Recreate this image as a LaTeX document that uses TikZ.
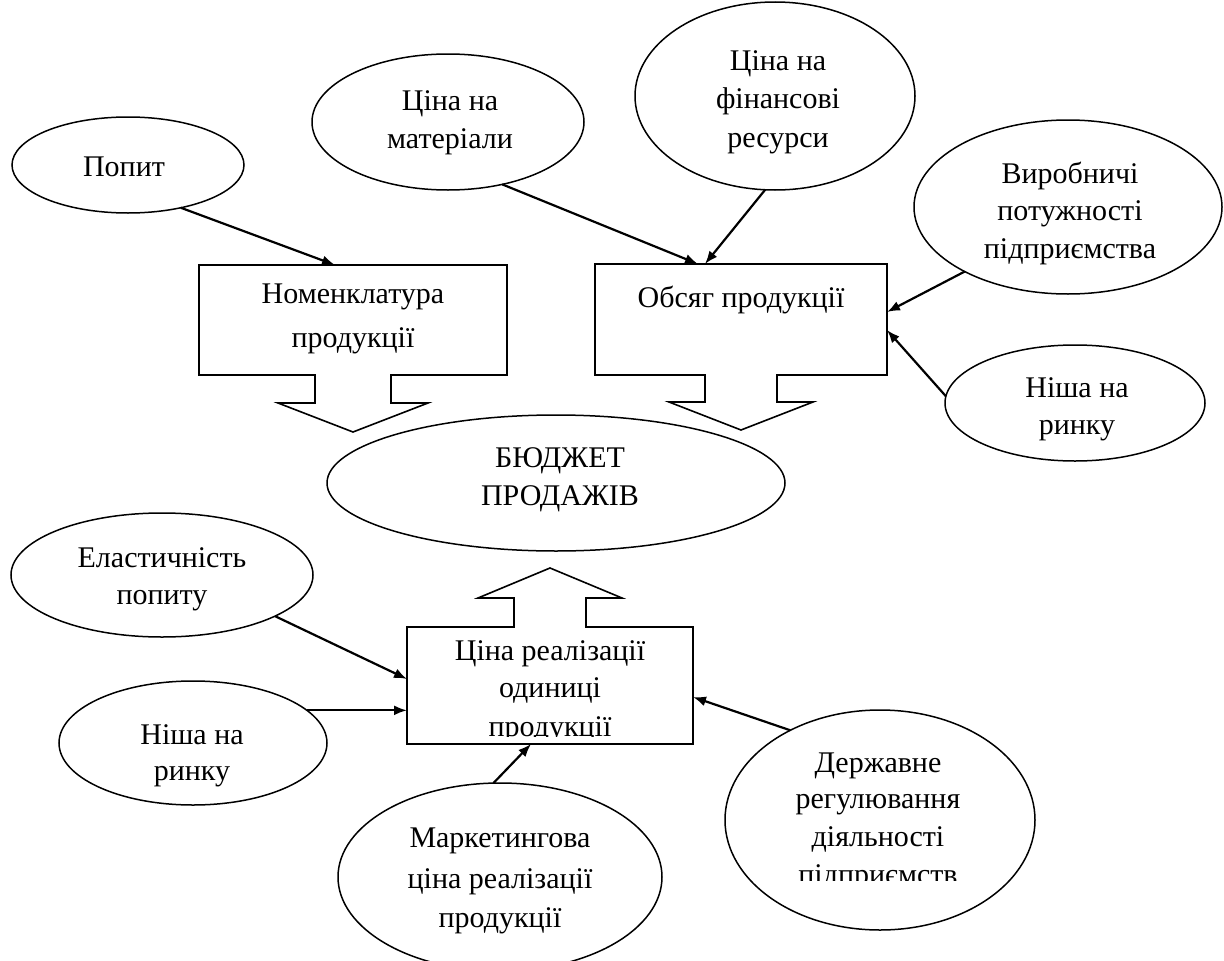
\documentclass[tikz,border=0pt]{standalone}
\usepackage{fontspec}
\setmainfont{Liberation Serif}
\usetikzlibrary{arrows.meta,shapes.geometric,calc}
\begin{document}
\begin{tikzpicture}[x=1pt,y=-1pt,
  oval/.style={draw, ellipse, line width=1.5pt, inner sep=0pt, outer sep=0pt},
  ln/.style={anchor=base, inner sep=0pt, font=\fontsize{30}{38}\selectfont},
  conn/.style={line width=2.2pt, -{Latex[length=13pt,width=10pt]}},
  outline/.style={line width=1.6pt, line join=miter},
  frame/.style={rectangle, inner sep=0pt, outer sep=0pt}
]
\useasboundingbox (0,0) rectangle (1224,961);

% ---------- ellipses ----------
\node[oval, minimum width=232pt, minimum height=96pt]  (popyt)  at (128,165) {};
\node[oval, minimum width=272pt, minimum height=136pt] (mater)  at (448,122) {};
\node[oval, minimum width=280pt, minimum height=188pt] (finan)  at (775,96)  {};
\node[oval, minimum width=308pt, minimum height=174pt] (vyrob)  at (1068,207) {};
\node[oval, minimum width=260pt, minimum height=116pt] (nishaR) at (1075,403) {};
\node[oval, minimum width=458pt, minimum height=136pt] (budget) at (556,483) {};
\node[oval, minimum width=302pt, minimum height=124pt] (elast)  at (162,575) {};
\node[oval, minimum width=268pt, minimum height=124pt] (nishaL) at (193,743) {};
\node[oval, minimum width=324pt, minimum height=188pt] (market) at (500,877) {};
\node[oval, minimum width=310pt, minimum height=220pt] (derzh)  at (880,820) {};

% ---------- ellipse texts ----------
\node[ln] (tPopyt) at (124,176) {Попит};
\node[ln] (tMat1) at (450,110) {Ціна на};
\node[ln] (tMat2) at (450,148) {матеріали};
\node[ln] (tFin1) at (778,70) {Ціна на};
\node[ln] (tFin2) at (778,108) {фінансові};
\node[ln] (tFin3) at (778,147) {ресурси};
\node[ln] (tVyr1) at (1070,183) {Виробничі};
\node[ln] (tVyr2) at (1070,220) {потужності};
\node[ln] (tVyr3) at (1070,258) {підприємства};
\node[ln] (tNR1) at (1077,397) {Ніша на};
\node[ln] (tNR2) at (1077,434) {ринку};
\node[ln] (tBud1) at (560,467) {БЮДЖЕТ};
\node[ln] (tBud2) at (560,505) {ПРОДАЖІВ};
\node[ln] (tEl1) at (162,567) {Еластичність};
\node[ln] (tEl2) at (162,604) {попиту};
\node[ln] (tNL1) at (192,744) {Ніша на};
\node[ln] (tNL2) at (192,780) {ринку};
\node[ln] (tMk1) at (500,847) {Маркетингова};
\node[ln] (tMk2) at (500,888) {ціна реалізації};
\node[ln] (tMk3) at (500,927) {продукції};
\node[ln] (tDz1) at (878,772) {Державне};
\node[ln] (tDz2) at (878,808) {регулювання};
\node[ln] (tDz3) at (878,846) {діяльності};
\begin{scope}
  \clip (720,850) rectangle (1040,880);
  \node[ln] (tDz4) at (878,884) {підприємств};
\end{scope}

% ---------- boxes with block arrows ----------
\node[frame, minimum width=308pt, minimum height=110pt] (nomen) at (353,320) {};
\draw[outline] (nomen.south west) -- (nomen.north west) -- (nomen.north east) -- (nomen.south east)
  -- ([xshift=38pt]nomen.south) -- ([xshift=38pt,yshift=-28pt]nomen.south)
  -- ([xshift=75pt,yshift=-28pt]nomen.south) -- ([yshift=-57pt]nomen.south)
  -- ([xshift=-75pt,yshift=-28pt]nomen.south) -- ([xshift=-38pt,yshift=-28pt]nomen.south)
  -- ([xshift=-38pt]nomen.south) -- cycle;
\node[ln] (tNom1) at (353,303) {Номенклатура};
\node[ln] (tNom2) at (353,347) {продукції};

\node[frame, minimum width=292pt, minimum height=111pt] (obs) at (741,319.5) {};
\draw[outline] (obs.south west) -- (obs.north west) -- (obs.north east) -- (obs.south east)
  -- ([xshift=36pt]obs.south) -- ([xshift=36pt,yshift=-27pt]obs.south)
  -- ([xshift=72pt,yshift=-27pt]obs.south) -- ([yshift=-55pt]obs.south)
  -- ([xshift=-72pt,yshift=-27pt]obs.south) -- ([xshift=-36pt,yshift=-27pt]obs.south)
  -- ([xshift=-36pt]obs.south) -- cycle;
\node[ln] (tObs) at (741,307) {Обсяг продукції};

\node[frame, minimum width=286pt, minimum height=117pt] (cina) at (550,685.5) {};
\draw[outline] (cina.north west) -- (cina.south west) -- (cina.south east) -- (cina.north east)
  -- ([xshift=36pt]cina.north) -- ([xshift=36pt,yshift=29pt]cina.north)
  -- ([xshift=72pt,yshift=29pt]cina.north) -- ([yshift=59pt]cina.north)
  -- ([xshift=-72pt,yshift=29pt]cina.north) -- ([xshift=-36pt,yshift=29pt]cina.north)
  -- ([xshift=-36pt]cina.north) -- cycle;
\node[ln] (tCin1) at (550,660) {Ціна реалізації};
\node[ln] (tCin2) at (550,697) {одиниці};
\begin{scope}
  \clip (410,700) rectangle (690,736);
  \node[ln] (tCin3) at (550,736) {продукції};
\end{scope}

% ---------- connectors ----------
\draw[conn] (popyt.-39.5) -- ([xshift=-18pt]nomen.north);
\draw[conn] (mater.-49.5) -- ([xshift=-43pt]obs.north);
\draw[conn] (finan.-96) -- ([xshift=-36pt]obs.north);
\draw[conn] (vyrob.212.8) -- ([yshift=7.5pt]obs.east);
\draw[conn] (nishaR.177.3) -- ([yshift=-10.5pt]obs.east);
\draw[conn] (elast.-20.4) -- ([yshift=6.5pt]cina.west);
\draw[conn] (nishaL.16) -- (nishaL.16 -| cina.west);
\draw[conn] (market.94.3) -- ([xshift=-19pt]cina.south);
\draw[conn] (derzh.135.3) -- ([yshift=-11.5pt]cina.east);
\end{tikzpicture}
\end{document}
